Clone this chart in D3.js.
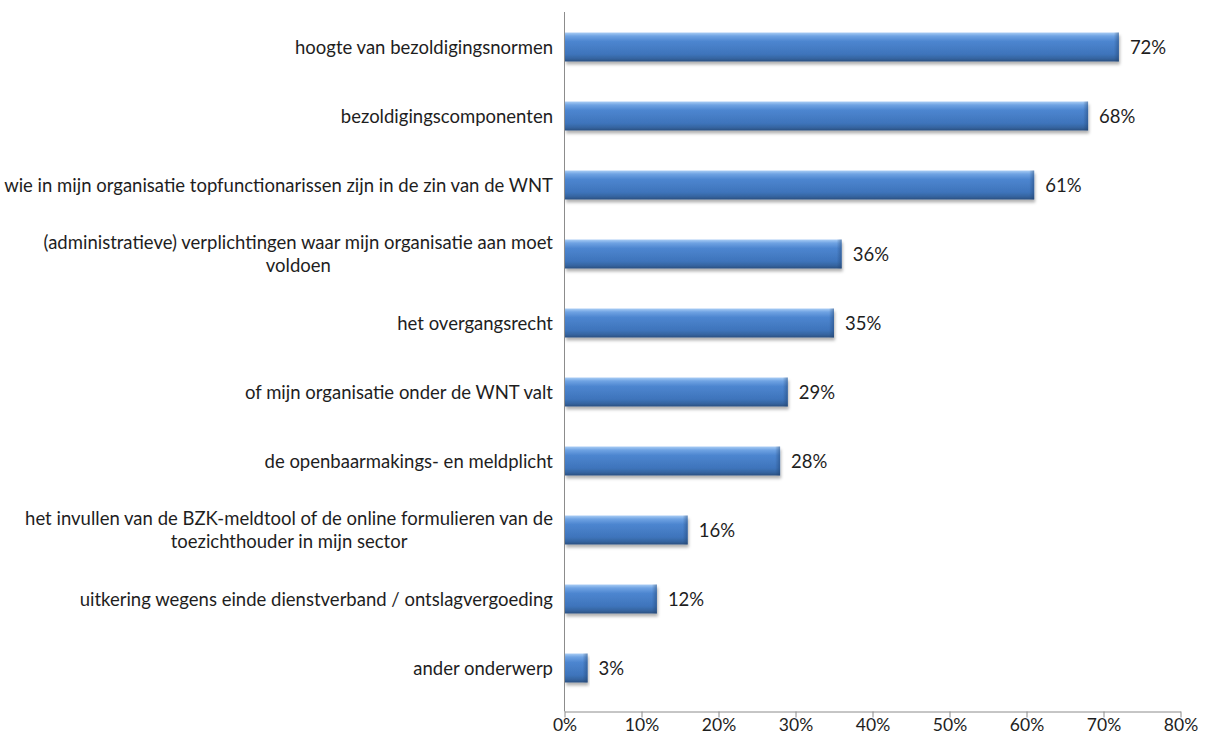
<!DOCTYPE html>
<html>
<head>
<meta charset="utf-8">
<script src="https://cdn.jsdelivr.net/npm/d3@7"></script>
<style>
  html, body { margin: 0; padding: 0; background: #fff; }
  svg { display: block; font-family: Lato, "Open Sans", sans-serif; }
</style>
</head>
<body>
<svg id="chart" width="1208" height="738"></svg>
<script>
// Survey topics (top to bottom); "\n" marks a line break in the label
const categories = [
  "hoogte van bezoldigingsnormen",
  "bezoldigingscomponenten",
  "wie in mijn organisatie topfunctionarissen zijn in de zin van de WNT",
  "(administratieve) verplichtingen waar mijn organisatie aan moet\nvoldoen",
  "het overgangsrecht",
  "of mijn organisatie onder de WNT valt",
  "de openbaarmakings- en meldplicht",
  "het invullen van de BZK-meldtool of de online formulieren van de\ntoezichthouder in mijn sector",
  "uitkering wegens einde dienstverband / ontslagvergoeding",
  "ander onderwerp"
];
// Share of respondents (%)
const values = [72, 68, 61, 36, 35, 29, 28, 16, 12, 3];
// Axis ticks (%)
const tickValues = [0, 10, 20, 30, 40, 50, 60, 70, 80];

const svg = d3.select("#chart");
const plotLeft = 564.5, plotRight = 1180.5, plotTop = 12, plotBottom = 711.5;
const fontSize = 18.5;

const x = d3.scaleLinear().domain([0, 80]).range([plotLeft, plotRight]);
const y = d3.scaleBand().domain(categories).range([12.5, 702.5]).paddingInner(0.58).paddingOuter(0.29);

// Bar fill: bevelled blue
const defs = svg.append("defs");
const g1 = defs.append("linearGradient").attr("id", "barGrad")
  .attr("x1", 0).attr("y1", 0).attr("x2", 0).attr("y2", 1);
[[0, "#a9cdf5"], [0.12, "#6fa3e3"], [0.3, "#4d86d0"], [0.75, "#3e74bb"], [0.9, "#35649f"], [1, "#2a4f80"]]
  .forEach(([o, c]) => g1.append("stop").attr("offset", o).attr("stop-color", c));
const g2 = defs.append("linearGradient").attr("id", "endGrad")
  .attr("x1", 0).attr("y1", 0).attr("x2", 1).attr("y2", 0);
g2.append("stop").attr("offset", 0).attr("stop-color", "#1f3f6a").attr("stop-opacity", 0);
g2.append("stop").attr("offset", 1).attr("stop-color", "#1f3f6a").attr("stop-opacity", 0.45);
const f = defs.append("filter").attr("id", "shadow").attr("x", "-5%").attr("y", "-30%").attr("width", "115%").attr("height", "180%");
f.append("feDropShadow").attr("dx", 1).attr("dy", 3).attr("stdDeviation", 1.6)
  .attr("flood-color", "#000").attr("flood-opacity", 0.3);

const data = categories.map((c, i) => ({ c, v: values[i] }));

// Bars
const bars = svg.append("g").selectAll("g").data(data).join("g");
bars.append("rect")
  .attr("x", x(0) + 0.5)
  .attr("y", d => y(d.c))
  .attr("width", d => x(d.v) - x(0) - 0.5)
  .attr("height", y.bandwidth())
  .attr("fill", "url(#barGrad)")
  .attr("filter", "url(#shadow)");
bars.append("rect")
  .attr("x", d => x(d.v) - 5)
  .attr("y", d => y(d.c))
  .attr("width", 5)
  .attr("height", y.bandwidth())
  .attr("fill", "url(#endGrad)");

// Value labels
svg.append("g").selectAll("text").data(data).join("text")
  .attr("x", d => x(d.v) + 11)
  .attr("y", d => y(d.c) + y.bandwidth() / 2)
  .attr("dy", "0.36em")
  .attr("font-size", fontSize)
  .attr("fill", "#1e1e1e")
  .text(d => d.v + "%");

// Category labels (multi-line ones are centred on their widest line)
const labelRight = 553;
const lab = svg.append("g").attr("font-size", fontSize).attr("fill", "#1e1e1e");
data.forEach(d => {
  const lines = d.c.split("\n");
  const cy = y(d.c) + y.bandwidth() / 2;
  const lh = 23;
  const t = lab.append("text");
  const spans = lines.map((ln, i) =>
    t.append("tspan").attr("x", 0)
      .attr("y", cy + (i - (lines.length - 1) / 2) * lh)
      .attr("dy", "0.36em").text(ln));
  if (lines.length === 1) {
    t.selectAll("tspan").attr("x", labelRight).attr("text-anchor", "end");
  } else {
    const w = d3.max(spans, s => s.node().getComputedTextLength());
    t.selectAll("tspan").attr("x", labelRight - w / 2).attr("text-anchor", "middle");
  }
});

// Axes
const xAxis = d3.axisBottom(x).tickValues(tickValues).tickFormat(d => d + "%").tickSize(6).tickSizeOuter(0);
const ax = svg.append("g").attr("transform", `translate(0,${plotBottom})`).call(xAxis);
ax.select(".domain").attr("stroke", "#8c8c8c");
ax.selectAll(".tick line").attr("stroke", "#8c8c8c");
ax.selectAll(".tick text").attr("font-size", 17.5).attr("fill", "#1e1e1e")
  .attr("font-family", "Lato, 'Open Sans', sans-serif").attr("dy", "0.62em");

svg.append("line")
  .attr("x1", plotLeft).attr("x2", plotLeft).attr("y1", plotTop).attr("y2", plotBottom)
  .attr("stroke", "#8c8c8c");
</script>
</body>
</html>
